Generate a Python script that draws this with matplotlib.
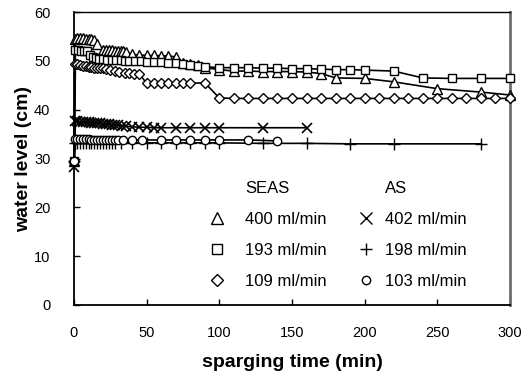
import matplotlib
matplotlib.use("Agg")
import matplotlib.pyplot as plt
from matplotlib.lines import Line2D
from matplotlib import font_manager

plt.rcParams['font.family'] = ['Liberation Sans', 'DejaVu Sans']

# ---- data ----
seas400_t = [0, 1, 2, 4, 6, 8, 10, 12, 14, 16, 20, 22, 24, 26, 28, 30, 32, 34, 36,
             40, 45, 50, 55, 60, 65, 70, 75, 80, 85, 90, 100, 110, 120, 130, 140,
             150, 160, 170, 180, 200, 220, 250, 280, 300]
seas400_y = [29.5, 54.5, 54.6, 54.6, 54.6, 54.5, 54.5, 54.4, 54.3, 53.5, 52.3, 52.2, 52.2, 52.2, 52.1, 52.1, 52.0, 52.0, 51.8,
             51.3, 51.2, 51.1, 51.1, 51.0, 51.0, 50.8, 49.6, 49.4, 49.2, 48.6, 48.2, 47.9, 47.9, 47.8, 47.8,
             47.8, 47.7, 47.4, 46.5, 46.4, 45.7, 44.3, 43.6, 43.0]

seas193_t = [0, 1, 3, 5, 7, 9, 11, 13, 15, 17, 20, 23, 26, 29, 32, 35, 38, 42, 46,
             50, 55, 60, 65, 70, 75, 80, 85, 90, 100, 110, 120, 130, 140, 150, 160,
             170, 180, 190, 200, 220, 240, 260, 280, 300]
seas193_y = [29.5, 52.3, 52.2, 52.1, 52.0, 52.0, 51.2, 50.8, 50.5, 50.4, 50.3, 50.2, 50.2, 50.1, 50.1, 50.0, 50.0, 50.0, 49.9,
             49.8, 49.8, 49.7, 49.6, 49.5, 49.3, 49.2, 49.0, 48.8, 48.6, 48.6, 48.6, 48.5, 48.5, 48.4, 48.4,
             48.3, 48.2, 48.2, 48.1, 47.9, 46.5, 46.4, 46.4, 46.4]

seas109_t = [0, 1, 2, 4, 6, 8, 10, 12, 14, 16, 18, 20, 22, 25, 28, 31, 35, 38, 41, 45,
             50, 55, 60, 65, 70, 75, 80, 90, 100, 110, 120, 130, 140, 150, 160, 170,
             180, 190, 200, 210, 220, 230, 240, 250, 260, 270, 280, 290, 300]
seas109_y = [29.5, 49.3, 49.3, 49.2, 49.0, 48.9, 48.8, 48.7, 48.6, 48.6, 48.5, 48.5, 48.4, 48.2, 48.0, 47.8, 47.6, 47.5, 47.4, 47.3,
             45.4, 45.4, 45.4, 45.4, 45.4, 45.4, 45.4, 45.5, 42.4, 42.3, 42.3, 42.3, 42.3, 42.3, 42.3, 42.3,
             42.3, 42.3, 42.3, 42.3, 42.3, 42.3, 42.3, 42.3, 42.3, 42.3, 42.3, 42.3, 42.3]

as402_t = [0, 1, 2, 4, 6, 8, 10, 12, 14, 16, 18, 20, 22, 24, 26, 28, 30, 33, 36,
           40, 45, 50, 55, 60, 70, 80, 90, 100, 130, 160]
as402_y = [28.2, 37.6, 37.6, 37.5, 37.5, 37.4, 37.4, 37.3, 37.3, 37.2, 37.2, 37.1, 37.0, 37.0, 36.9, 36.9, 36.8, 36.7, 36.6,
           36.5, 36.4, 36.4, 36.3, 36.3, 36.3, 36.3, 36.3, 36.3, 36.3, 36.3]

as198_t = [0, 1, 2, 4, 6, 8, 10, 12, 14, 16, 18, 20, 22, 24, 26, 28, 32,
           40, 50, 60, 70, 80, 90, 100, 130, 160, 190, 220, 280]
as198_y = [29.5, 33.2, 33.2, 33.2, 33.2, 33.2, 33.2, 33.2, 33.2, 33.2, 33.2, 33.2, 33.2, 33.2, 33.2, 33.2, 33.2,
           33.2, 33.2, 33.2, 33.2, 33.2, 33.2, 33.2, 33.1, 33.1, 33.0, 33.0, 33.0]

as103_t = [0, 1, 2, 4, 6, 8, 10, 12, 14, 16, 18, 20, 22, 24, 26, 28, 30, 34,
           40, 47, 60, 70, 80, 90, 100, 120, 140]
as103_y = [29.5, 33.9, 33.9, 33.9, 33.9, 33.9, 33.9, 33.8, 33.8, 33.8, 33.8, 33.8, 33.8, 33.8, 33.8, 33.8, 33.8, 33.8,
           33.8, 33.8, 33.8, 33.8, 33.8, 33.8, 33.8, 33.8, 33.6]

seas_labels = ['400 ml/min', '193 ml/min', '109 ml/min']
as_labels = ['402 ml/min', '198 ml/min', '103 ml/min']
x_ticks = [0, 50, 100, 150, 200, 250, 300]
y_ticks = [0, 10, 20, 30, 40, 50, 60]

# narrow font for tick labels if installed
_names = {f.name for f in font_manager.fontManager.ttflist}
if 'Liberation Sans Narrow' in _names:
    tick_family, tick_size = 'Liberation Sans Narrow', 12
else:
    tick_family, tick_size = 'Liberation Sans', 10.5

# ---- figure ----
fig = plt.figure(figsize=(5.22, 3.80), dpi=100)
ax = fig.add_axes([74/522, 1-305/380, (510-74)/522, (305-12)/380])

common = dict(color='black', lw=1.2, mfc='white', mec='black', clip_on=False)
series = [
    (seas400_t, seas400_y, '^', 6.5, 1.0),
    (seas193_t, seas193_y, 's', 6.0, 1.0),
    (seas109_t, seas109_y, 'D', 5.0, 1.0),
    (as402_t, as402_y, 'x', 7.0, 1.2),
    (as198_t, as198_y, '+', 8.5, 1.0),
    (as103_t, as103_y, 'o', 6.0, 1.0),
]
for t, y, m, ms, mew in series:
    ax.plot(t, y, marker=m, ms=ms, mew=mew, zorder=3, **common)

ax.set_xlim(0, 300)
ax.set_ylim(0, 60)
ax.set_xticks(x_ticks)
ax.set_yticks(y_ticks)
ax.tick_params(axis='both', direction='in', length=4, width=1, labelsize=tick_size,
               top=False, right=False)
for lab in ax.get_xticklabels() + ax.get_yticklabels():
    lab.set_family(tick_family)
ax.tick_params(axis='y', pad=17)
ax.tick_params(axis='x', pad=15)

for s in ['left', 'bottom']:
    ax.spines[s].set_linewidth(1.3)
    ax.spines[s].set_color('black')
ax.spines['top'].set_linewidth(1.0)
ax.spines['top'].set_color('black')
ax.spines['right'].set_linewidth(2.0)
ax.spines['right'].set_color('#6e6e6e')

ax.set_xlabel('sparging time (min)', fontsize=14, fontweight='bold', labelpad=10)
ax.set_ylabel('water level (cm)', fontsize=14, fontweight='bold')
ax.yaxis.set_label_coords((32 - 74) / 436, 0.5)

# ---- legend (two columns, as in the reference) ----
blank = Line2D([], [], linestyle='none', marker=None)
def mk(m, ms):
    return Line2D([], [], linestyle='none', marker=m, ms=ms, mfc='white', mec='black', mew=1.0)

leg_kw = dict(frameon=False, loc='upper left', handlelength=1.0,
              labelspacing=0.95, fontsize=12, borderaxespad=0, borderpad=0)
leg1 = ax.legend([blank, mk('^', 8), mk('s', 7), mk('D', 6)],
                 ['SEAS'] + seas_labels,
                 bbox_to_anchor=((208.7 - 74) / 436, (305 - 181) / 293),
                 handletextpad=1.2, **leg_kw)
ax.add_artist(leg1)
ax.legend([blank, mk('x', 8), mk('+', 9), mk('o', 6)],
          ['AS'] + as_labels,
          bbox_to_anchor=((357.7 - 74) / 436, (305 - 181) / 293),
          handletextpad=0.65, **leg_kw)

fig.savefig('out.png', dpi=100)
